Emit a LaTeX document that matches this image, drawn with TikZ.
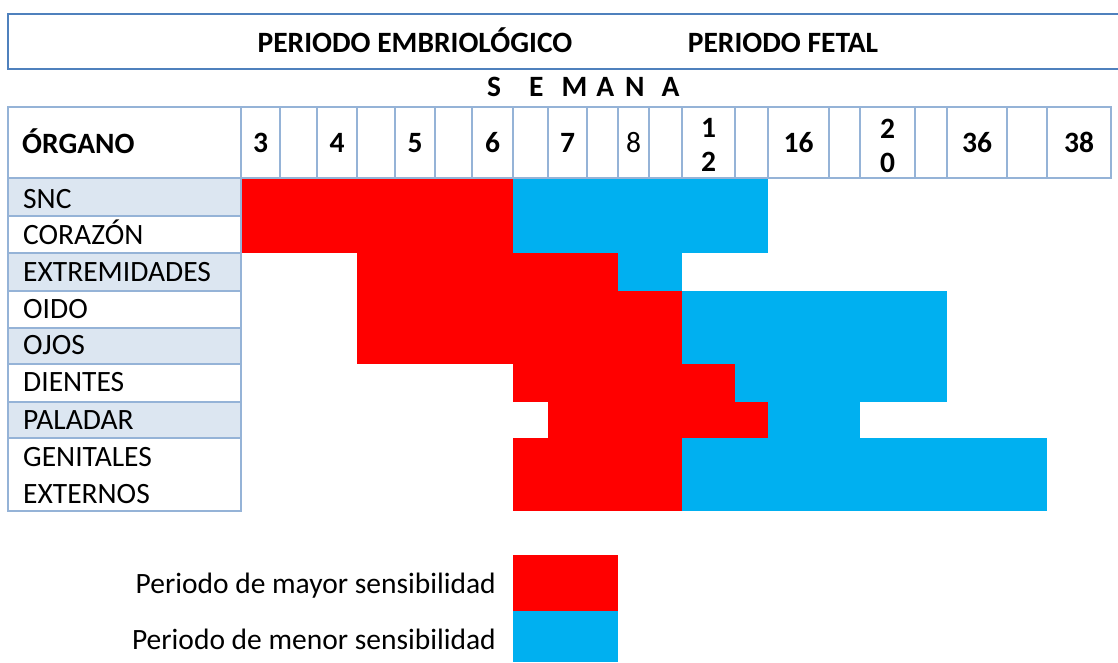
\documentclass[tikz,border=0pt]{standalone}
\usepackage{fontspec}
\setmainfont{Carlito}
\definecolor{rojoSens}{HTML}{FF0000}
\definecolor{azulSens}{HTML}{00B0F0}
\definecolor{grisFila}{HTML}{DCE6F1}
\definecolor{lineaTabla}{HTML}{95B3D7}
\definecolor{lineaMarco}{HTML}{4F81BD}
\tikzset{
	texto/.style={inner sep=0pt, font=\fontsize{29.5}{35}\selectfont},
	negrita/.style={inner sep=0pt, font=\fontsize{29.5}{35}\selectfont\bfseries},
	celda/.style={draw=lineaTabla, line width=1.5pt},
	mayor/.style={fill=rojoSens},
	menor/.style={fill=azulSens}
}
\begin{document}
\begin{tikzpicture}[x=1pt, y=-1pt]
			%%%%% START %%%%%
			\useasboundingbox (0, 0) rectangle (1118, 662);
			
			% titulo
			\draw[lineaMarco, line width=1.5pt] (1118, 14) -- (8, 14) -- (8, 69) -- (1118, 69);
			\node[negrita, anchor=base] (embrio) at (415, 52) {PERIODO EMBRIOLÓGICO};
			\node[negrita, anchor=base] (fetal) at (783, 52) {PERIODO FETAL};
			\node[negrita, anchor=base west] (semana) at (487, 96) {S\hspace{28pt}E\hspace{18pt}M\hspace{9pt}A\hspace{11pt}N\hspace{17pt}A};
			
			% periodos
			\fill[mayor] (241, 178) rectangle (513, 253);
			\fill[menor] (513, 178) rectangle (768, 253);
			\fill[mayor] (357, 253) rectangle (618, 291);
			\fill[menor] (618, 253) rectangle (682, 291);
			\fill[mayor] (357, 291) rectangle (682, 364);
			\fill[menor] (682, 291) rectangle (947, 364);
			\fill[mayor] (513, 364) rectangle (735, 402);
			\fill[menor] (735, 364) rectangle (947, 402);
			\fill[mayor] (548, 402) rectangle (768, 438);
			\fill[menor] (768, 402) rectangle (860, 438);
			\fill[mayor] (513, 438) rectangle (682, 511);
			\fill[menor] (682, 438) rectangle (1047, 511);
			
			% cabecera
			\draw[celda] (8, 107) rectangle (1111, 178);
			\foreach \x in {241, 280, 317, 357, 395, 435, 472, 513, 548, 587, 618, 649, 682, 735, 768, 829, 860, 915, 947, 1007, 1047}
				\draw[celda] (\x, 107) -- (\x, 178);
			\node[negrita, anchor=base west] (organo) at (22, 153) {ÓRGANO};
			\foreach \x/\n/\t in {260.5/s3/3, 337/s4/4, 415/s5/5, 492.5/s6/6, 567.5/s7/7, 798.5/s16/16, 977/s36/36, 1079/s38/38}
				\node[negrita, anchor=base] (\n) at (\x, 152) {\t};
			\node[texto, anchor=base] (s8) at (633.5, 152) {8};
			\node[negrita, anchor=north, align=center, font=\fontsize{29.5}{34}\selectfont\bfseries] (s12) at (708.5, 118.5) {1\\2};
			\node[negrita, anchor=north, align=center, font=\fontsize{29.5}{34}\selectfont\bfseries] (s20) at (887.5, 118.5) {2\\0};
			
			% organos
			\foreach \a/\b in {178/216, 253/291, 328/364, 402/438}
				\fill[grisFila] (8, \a) rectangle (241, \b);
			\foreach \a/\b in {178/216, 216/253, 253/291, 291/328, 328/364, 364/402, 402/438, 438/511}
				\draw[celda] (8, \a) rectangle (241, \b);
			\foreach \y/\n/\t in {208/snc/SNC, 244.5/corazon/CORAZÓN, 281/extremidades/EXTREMIDADES, 318/oido/OIDO, 354.5/ojos/OJOS, 391.5/dientes/DIENTES, 429/paladar/PALADAR}
				\node[texto, anchor=base west] (\n) at (23, \y) {\t};
			\node[texto, anchor=north west, align=left, font=\fontsize{29.5}{37}\selectfont] (genitales) at (23, 447) {GENITALES\\EXTERNOS};
			
			% leyenda
			\fill[mayor] (513, 555) rectangle (618, 611);
			\fill[menor] (513, 611) rectangle (618, 662);
			\node[texto, anchor=base east] (leyMayor) at (496, 593) {Periodo de mayor sensibilidad};
			\node[texto, anchor=base east] (leyMenor) at (496, 649) {Periodo de menor sensibilidad};
			%%%%% END %%%%%
\end{tikzpicture}
\end{document}
